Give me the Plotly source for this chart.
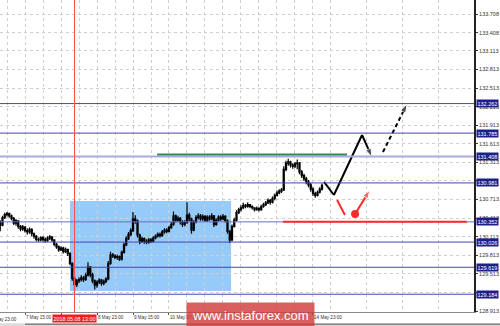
import plotly.graph_objects as go

# ---------------- data (bar index k: 0 = 4 May 23:00, H1 bars) ----------------
BAR_INDEX = list(range(149))
CLOSE = [130.30,130.33,130.28,130.31,130.35,130.30,130.42,130.47,130.49,130.45,
         130.41,130.33,130.37,130.28,130.24,130.27,130.21,130.19,130.23,130.16,
         130.12,130.07,130.06,130.10,130.07,130.05,130.09,130.11,130.06,129.99,
         129.95,129.90,129.93,129.87,129.91,129.84,129.68,129.44,129.34,129.40,
         129.42,129.45,129.42,129.49,129.62,129.50,129.40,129.33,129.38,129.41,
         129.36,129.39,129.43,129.68,129.82,129.80,129.78,129.79,129.75,129.86,
         129.98,130.08,130.15,130.21,130.40,130.37,130.14,130.04,130.08,130.04,
         130.02,130.06,130.04,130.09,130.12,130.15,130.13,130.19,130.22,130.20,
         130.26,130.31,130.45,130.38,130.41,130.35,130.31,130.34,130.46,130.40,
         130.22,130.35,130.42,130.45,130.40,130.44,130.38,130.43,130.40,130.45,
         130.31,130.38,130.43,130.40,130.44,130.37,130.20,130.06,130.28,130.38,
         130.50,130.55,130.58,130.62,130.60,130.63,130.60,130.58,130.55,130.57,
         130.55,130.60,130.63,130.66,130.70,130.67,130.73,130.78,130.82,130.85,
         130.87,131.20,131.30,131.32,131.27,131.25,131.29,131.30,131.16,131.10,
         131.05,131.00,130.95,130.88,130.81,130.78,130.83,130.88,130.94]
HIGH = [130.33,130.35,130.36,130.33,130.37,130.38,130.45,130.50,130.51,130.50,
        130.47,130.43,130.40,130.38,130.30,130.30,130.28,130.25,130.26,130.25,
        130.18,130.14,130.10,130.12,130.12,130.10,130.12,130.14,130.12,130.07,
        130.01,129.97,129.96,129.95,129.94,129.92,129.86,129.70,129.48,129.43,
        129.46,129.49,129.48,129.53,129.70,129.64,129.53,129.42,129.41,129.44,
        129.43,129.42,129.46,129.72,129.87,129.85,129.83,129.82,129.81,129.89,
        130.02,130.12,130.19,130.25,130.51,130.46,130.39,130.16,130.11,130.10,
        130.07,130.09,130.09,130.12,130.15,130.18,130.18,130.22,130.25,130.25,
        130.29,130.35,130.52,130.47,130.45,130.43,130.38,130.38,130.67,130.50,
        130.42,130.38,130.46,130.49,130.48,130.47,130.46,130.46,130.46,130.49,
        130.46,130.41,130.46,130.46,130.48,130.46,130.39,130.22,130.31,130.42,
        130.54,130.58,130.62,130.66,130.64,130.67,130.64,130.62,130.59,130.60,
        130.59,130.63,130.66,130.69,130.73,130.72,130.76,130.81,130.86,130.88,
        130.90,131.25,131.34,131.37,131.34,131.30,131.32,131.36,131.32,131.19,
        131.13,131.08,131.03,130.98,130.91,130.84,130.86,130.91,130.97]
LOW = [130.26,130.28,130.26,130.25,130.29,130.20,130.28,130.40,130.44,130.42,
       130.38,130.30,130.29,130.24,130.20,130.21,130.18,130.15,130.16,130.12,
       130.08,130.04,130.03,130.04,130.03,130.02,130.03,130.06,130.03,129.96,
       129.92,129.87,129.88,129.84,129.85,129.80,129.65,129.40,129.23,129.30,
       129.36,129.39,129.38,129.40,129.47,129.46,129.36,129.26,129.29,129.35,
       129.32,129.33,129.36,129.41,129.66,129.77,129.75,129.74,129.72,129.73,
       129.84,129.96,130.06,130.12,130.19,130.32,130.10,129.99,130.01,130.00,
       129.99,130.00,130.01,130.02,130.07,130.10,130.10,130.11,130.16,130.17,
       130.18,130.24,130.29,130.34,130.35,130.31,130.27,130.28,130.32,130.36,
       130.16,130.20,130.33,130.39,130.37,130.37,130.35,130.35,130.37,130.38,
       130.27,130.29,130.36,130.37,130.38,130.34,130.16,130.01,130.04,130.26,
       130.36,130.48,130.52,130.56,130.57,130.58,130.57,130.55,130.52,130.53,
       130.52,130.53,130.58,130.61,130.64,130.63,130.65,130.70,130.76,130.80,
       130.82,130.85,131.17,131.26,131.23,131.21,131.22,131.20,131.12,131.06,
       131.01,130.96,130.91,130.84,130.77,130.74,130.76,130.81,130.86]
FIRST_OPEN = 130.28
OPEN = [FIRST_OPEN] + CLOSE[:-1]

# price axis ticks (labels fully hidden behind level boxes are left blank)
Y_TICKS = [128.913, 129.213, 129.513, 129.813, 130.113, 130.413, 130.713, 131.013,
           131.313, 131.613, 131.913, 132.213, 132.513, 132.813, 133.113, 133.408, 133.708]
Y_TICK_TEXT = ["128.913", "", "129.513", "129.813", "130.113", "130.413", "130.713", "",
               "131.313", "131.613", "131.913", "132.213", "132.513", "132.813", "133.113",
               "133.408", "133.708"]
# horizontal levels
LEVELS = [132.262, 131.785, 131.408, 130.981, 130.352, 130.026, 129.619, 129.184]
LEVEL_COLORS = ["#4646b4", "#4646b4", "#a9a9e2", "#4646b4", "#6c6cc8", "#4646b4", "#4646b4", "#4646b4"]
LEVEL_WIDTHS = [1, 1, 2, 1, 1, 1, 1, 1]

# time axis (labels hidden under the crosshair box / watermark are left blank)
TIME_TICK_K = [16, 32, 48, 64, 80, 96, 112, 128, 144]
TIME_TICK_TEXT = ["7 May 15:00", "", "8 May 23:00", "9 May 15:00", "10 May 07:00",
                  "", "", "", "14 May 23:00"]
GRID_K = [8, 24, 40, 56, 72, 88, 104, 120, 136, 152, 168, 184, 200]
FIRST_LABEL = "4 May 23:00"
CROSS_K = 38
CROSS_LABEL = "2018.05.08 13:00"

# zone / lines
ZONE_K = [36.0, 107.6]
ZONE_P = [129.236, 130.689]
GREEN_K = [74.7, 159.1]
GREEN_P = 131.44
RED_K = [130.7, 212.4]
RED_P = 130.352

# forecast paths
MAIN_K = [148.9, 153.3, 165.8, 170.2]
MAIN_P = [130.996, 130.786, 131.755, 131.399]
EXT_K = [175.1, 185.8]
EXT_P = [131.48, 132.255]
ALT_K = [154.7, 158.2]
ALT_P = [130.705, 130.463]
ALT_DOT_K, ALT_DOT_P = 162.7, 130.479
ALT_ARROW_K, ALT_ARROW_P = 169.3, 130.867

X_RANGE = [4.89, 215.56]
Y_RANGE = [128.897, 133.934]

RED = "#ff2a2a"
fig = go.Figure()

fig.add_trace(go.Candlestick(
    x=BAR_INDEX, open=OPEN, high=HIGH, low=LOW, close=CLOSE,
    increasing=dict(line=dict(color="black", width=1.2), fillcolor="white"),
    decreasing=dict(line=dict(color="black", width=1.2), fillcolor="black"),
    whiskerwidth=0, showlegend=False, hoverinfo="skip"))

# main forecast (solid black) with arrow at end
fig.add_trace(go.Scatter(x=MAIN_K, y=MAIN_P, mode="lines+markers",
                         line=dict(color="black", width=2),
                         marker=dict(symbol=["circle", "circle", "circle", "arrow"],
                                     size=[0, 0, 0, 9], angleref="previous", color="black"),
                         showlegend=False, hoverinfo="skip"))
# extension (dashed black)
fig.add_trace(go.Scatter(x=EXT_K, y=EXT_P, mode="lines+markers",
                         line=dict(color="black", width=2, dash="4px,3px"),
                         marker=dict(symbol=["circle", "arrow"], size=[0, 9],
                                     angleref="previous", color="black"),
                         showlegend=False, hoverinfo="skip"))
# alternative (red)
fig.add_trace(go.Scatter(x=ALT_K, y=ALT_P, mode="lines",
                         line=dict(color=RED, width=2),
                         showlegend=False, hoverinfo="skip"))
fig.add_trace(go.Scatter(x=[ALT_DOT_K, ALT_ARROW_K], y=[ALT_DOT_P, ALT_ARROW_P], mode="lines+markers",
                         line=dict(color=RED, width=2),
                         marker=dict(symbol=["circle", "arrow"], size=[0, 9],
                                     angleref="previous", color=RED),
                         showlegend=False, hoverinfo="skip"))
fig.add_trace(go.Scatter(x=[ALT_DOT_K], y=[ALT_DOT_P], mode="markers",
                         marker=dict(symbol="circle", size=8, color=RED, line=dict(width=0)),
                         showlegend=False, hoverinfo="skip"))

shapes = []
# blue zone
shapes.append(dict(type="rect", xref="x", yref="y", x0=ZONE_K[0], x1=ZONE_K[1],
                   y0=ZONE_P[0], y1=ZONE_P[1], fillcolor="#96caf9", line=dict(width=0), layer="below"))
# levels
for lv, c, w in zip(LEVELS, LEVEL_COLORS, LEVEL_WIDTHS):
    shapes.append(dict(type="line", xref="paper", yref="y", x0=0, x1=1, y0=lv, y1=lv,
                       line=dict(color=c, width=w), layer="above"))
# green line
shapes.append(dict(type="line", xref="x", yref="y", x0=GREEN_K[0], x1=GREEN_K[1],
                   y0=GREEN_P, y1=GREEN_P, line=dict(color="#2e8b57", width=2)))
# red line
shapes.append(dict(type="line", xref="x", yref="y", x0=RED_K[0], x1=RED_K[1],
                   y0=RED_P, y1=RED_P, line=dict(color=RED, width=2)))
# crosshair vertical
shapes.append(dict(type="line", xref="x", yref="paper", x0=CROSS_K, x1=CROSS_K, y0=0, y1=1,
                   line=dict(color="#ff4d4d", width=1)))
# window frame strip at bottom
shapes.append(dict(type="rect", xref="paper", yref="paper", x0=-0.01, x1=1.06,
                   y0=-0.036, y1=-0.06, fillcolor="#dcdcdc", line=dict(width=0)))
shapes.append(dict(type="line", xref="paper", yref="paper", x0=25 / 474, x1=1.06,
                   y0=-0.039, y1=-0.039, line=dict(color="#555", width=1)))

annotations = []
for lv in LEVELS:
    annotations.append(dict(xref="paper", yref="y", x=1.004, y=lv, xanchor="left", yanchor="middle",
                            text=f"{lv:.3f}", showarrow=False, bgcolor="#1f1f8a",
                            font=dict(family="Liberation Sans", size=5.5, color="white"),
                            borderpad=0.5))
annotations.append(dict(xref="paper", yref="paper", x=-11 / 474, y=-0.009, xanchor="left", yanchor="top",
                        text=FIRST_LABEL, showarrow=False,
                        font=dict(family="Liberation Sans", size=4.6, color="#333")))
annotations.append(dict(xref="x", yref="paper", x=CROSS_K, y=-0.008, xanchor="center", yanchor="top",
                        text=CROSS_LABEL, showarrow=False, bgcolor="#ff1a1a",
                        font=dict(family="Liberation Sans", size=5.4, color="white"), borderpad=0.5))
annotations.append(dict(xref="paper", yref="paper", x=250 / 474, y=0.033, xanchor="center", yanchor="top",
                        text="www.instaforex.com", showarrow=False, bgcolor="rgba(210,60,60,0.82)",
                        borderpad=5,
                        font=dict(family="Liberation Sans", size=13, color="white")))

fig.update_layout(
    width=500, height=326,
    margin=dict(l=0, r=26, t=0, b=14, pad=0),
    paper_bgcolor="white", plot_bgcolor="white",
    shapes=shapes, annotations=annotations,
    xaxis=dict(range=X_RANGE, rangeslider=dict(visible=False), fixedrange=True,
               tickmode="array", tickvals=TIME_TICK_K, ticktext=TIME_TICK_TEXT,
               ticklabelposition="outside right", tickangle=0,
               tickfont=dict(family="Liberation Sans", size=4.6, color="#333"),
               ticks="outside", ticklen=2, tickcolor="#555",
               showgrid=True, gridcolor="#cfcfcf", griddash="dot", gridwidth=1,
               minor=dict(tickmode="array", tickvals=GRID_K, showgrid=True,
                          gridcolor="#cfcfcf", griddash="dot", ticks=""),
               showline=True, linecolor="#8a8a8a", linewidth=1, zeroline=False),
    yaxis=dict(range=Y_RANGE, side="right", fixedrange=True,
               tickmode="array", tickvals=Y_TICKS, ticktext=Y_TICK_TEXT,
               tickfont=dict(family="Liberation Sans", size=5.5, color="#333"),
               ticks="outside", ticklen=2, tickcolor="#333",
               showgrid=True, gridcolor="#cfcfcf", griddash="dot", gridwidth=1,
               showline=True, linecolor="#222", linewidth=2, zeroline=False),
)

fig.write_html("out.html")
